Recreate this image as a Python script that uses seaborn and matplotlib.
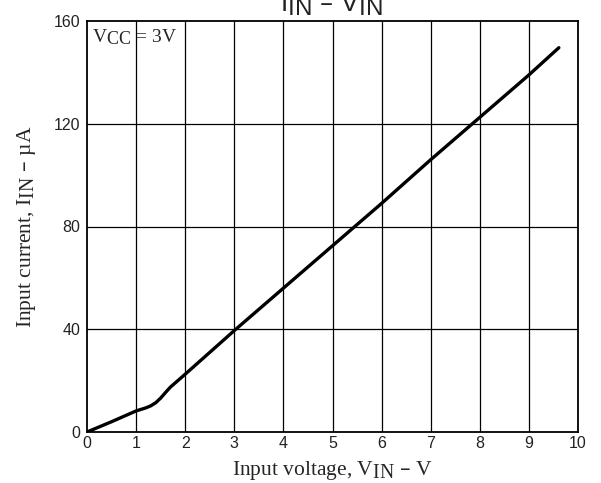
import matplotlib
matplotlib.use("Agg")
import matplotlib.pyplot as plt
import matplotlib._mathtext as _mt
import seaborn as sns
import pandas as pd

# Subscripts in the reference are nearly full-size
_mt.SHRINK_FACTOR = 0.92

# Data
v_in = [0, 0.5, 1.0, 1.2, 1.3, 1.4, 1.5, 1.6, 1.7, 2.0, 3.0, 4.0, 5.0, 6.0, 7.0, 8.0, 9.0, 9.61]
i_in = [0, 4.0, 8.2, 9.4, 10.2, 11.4, 13.2, 15.4, 17.5, 22.5, 39.5, 56.0, 72.5, 89.0, 106.0, 122.5, 139.0, 149.6]
x_ticks = [0, 1, 2, 3, 4, 5, 6, 7, 8, 9, 10]
y_ticks = [0, 40, 80, 120, 160]

df = pd.DataFrame({"V": v_in, "I": i_in})

sns.set_style("white")
plt.rcParams["font.family"] = ["Liberation Sans", "DejaVu Sans"]

fig = plt.figure(figsize=(6.01, 4.83), dpi=100)
ax = fig.add_axes([87/601, 1-432/483, (578-87)/601, (432-21)/483])

sns.lineplot(data=df, x="V", y="I", ax=ax, color="black", linewidth=2.4, sort=False)

ax.set_xlim(0, 10)
ax.set_ylim(0, 160)
ax.set_xticks(x_ticks)
ax.set_yticks(y_ticks)
ax.tick_params(axis="x", length=0, labelsize=11.5, colors="#222222", pad=3)
ax.tick_params(axis="y", length=0, labelsize=11.5, colors="#222222", pad=5)
for v in x_ticks[1:-1]:
    ax.axvline(v, color="black", lw=0.9, zorder=0)
for v in y_ticks[1:-1]:
    ax.axhline(v, color="black", lw=0.9, zorder=0)
for s in ax.spines.values():
    s.set_color("black")
    s.set_linewidth(1.3)

serif = ["Liberation Serif", "DejaVu Serif"]
ax.set_xlabel(r"Input voltage, $\mathregular{V_{IN}}$ – V", fontsize=15.5, family=serif, labelpad=6)
ax.set_ylabel(r"Input current, $\mathregular{I_{IN}}$ – µA", fontsize=15.5, family=serif, labelpad=11)
ax.text(0.01, 0.985, r"$\mathregular{V_{CC}}$ = 3V", transform=ax.transAxes, fontsize=14,
        family=serif, va="top", ha="left")

fig.text(331/601, 1-12/483, r"$\mathregular{I_{IN}}$ – $\mathregular{V_{IN}}$", fontsize=19,
         ha="center", va="baseline", color="#222222")

fig.savefig("out.png", dpi=100)
